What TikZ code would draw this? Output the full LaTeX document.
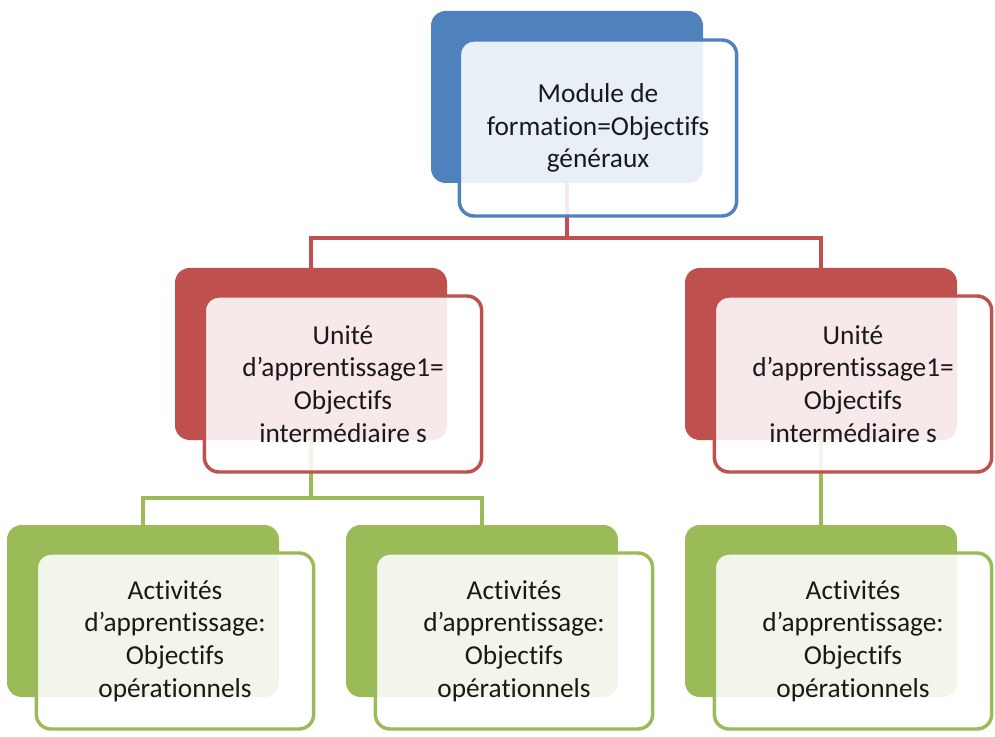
\documentclass[tikz,border=0pt]{standalone}
\usepackage{fontspec}
\setmainfont[Ligatures=NoCommon]{Carlito}
\usetikzlibrary{backgrounds}
\definecolor{modblue}{HTML}{4F81BD}
\definecolor{unitred}{HTML}{C0504D}
\definecolor{actgreen}{HTML}{9BBB59}

\begin{document}
\begin{tikzpicture}[
    x=0.75pt, y=-0.75pt,
    back/.style={rectangle, rounded corners=11pt, fill=#1, minimum width=204pt, minimum height=129pt, inner sep=0pt},
    front/.style={rectangle, rounded corners=11pt, draw=#1, line width=2.6pt, fill=white, fill opacity=0.88, text opacity=1, minimum width=208pt, minimum height=132pt, inner sep=0pt, align=center, text=black!90, font=\fontsize{20.5}{24.5}\selectfont},
    link/.style={draw=#1, line width=2.6pt}
]
    \useasboundingbox (0,0) rectangle (995,737);

    % Module de formation
    \node[back=modblue] (moduleB) at (567, 97) {};
    \node[front=modblue] (module) at (598, 128) {Module de\\formation=Objectifs\\généraux};

    % Unites d'apprentissage
    \node[back=unitred] (uniteAB) at (311, 354) {};
    \node[front=unitred] (uniteA) at (343, 384) {Unité\\d’apprentissage1=\\Objectifs\\intermédiaire s};

    \node[back=unitred] (uniteBB) at (821, 354) {};
    \node[front=unitred] (uniteB) at (853, 384) {Unité\\d’apprentissage1=\\Objectifs\\intermédiaire s};

    % Activites d'apprentissage
    \node[back=actgreen] (actAB) at (143, 611) {};
    \node[front=actgreen] (actA) at (175, 641) {Activités\\d’apprentissage:\\Objectifs\\opérationnels};

    \node[back=actgreen] (actBB) at (482, 611) {};
    \node[front=actgreen] (actB) at (514, 641) {Activités\\d’apprentissage:\\Objectifs\\opérationnels};

    \node[back=actgreen] (actCB) at (821, 611) {};
    \node[front=actgreen] (actC) at (853, 641) {Activités\\d’apprentissage:\\Objectifs\\opérationnels};

    % connectors
    \coordinate (busTop) at (567, 238);
    \coordinate (busLeft) at (311, 498);
    \begin{scope}[on background layer]
        \draw[link=unitred] (moduleB.south) -- (busTop) -| (uniteAB.north);
        \draw[link=unitred] (busTop) -| (uniteBB.north);
        \draw[link=actgreen] (uniteAB.south) -- (busLeft) -| (actAB.north);
        \draw[link=actgreen] (busLeft) -| (actBB.north);
        \draw[link=actgreen] (uniteBB.south) -- (actCB.north);
    \end{scope}
\end{tikzpicture}
\end{document}
